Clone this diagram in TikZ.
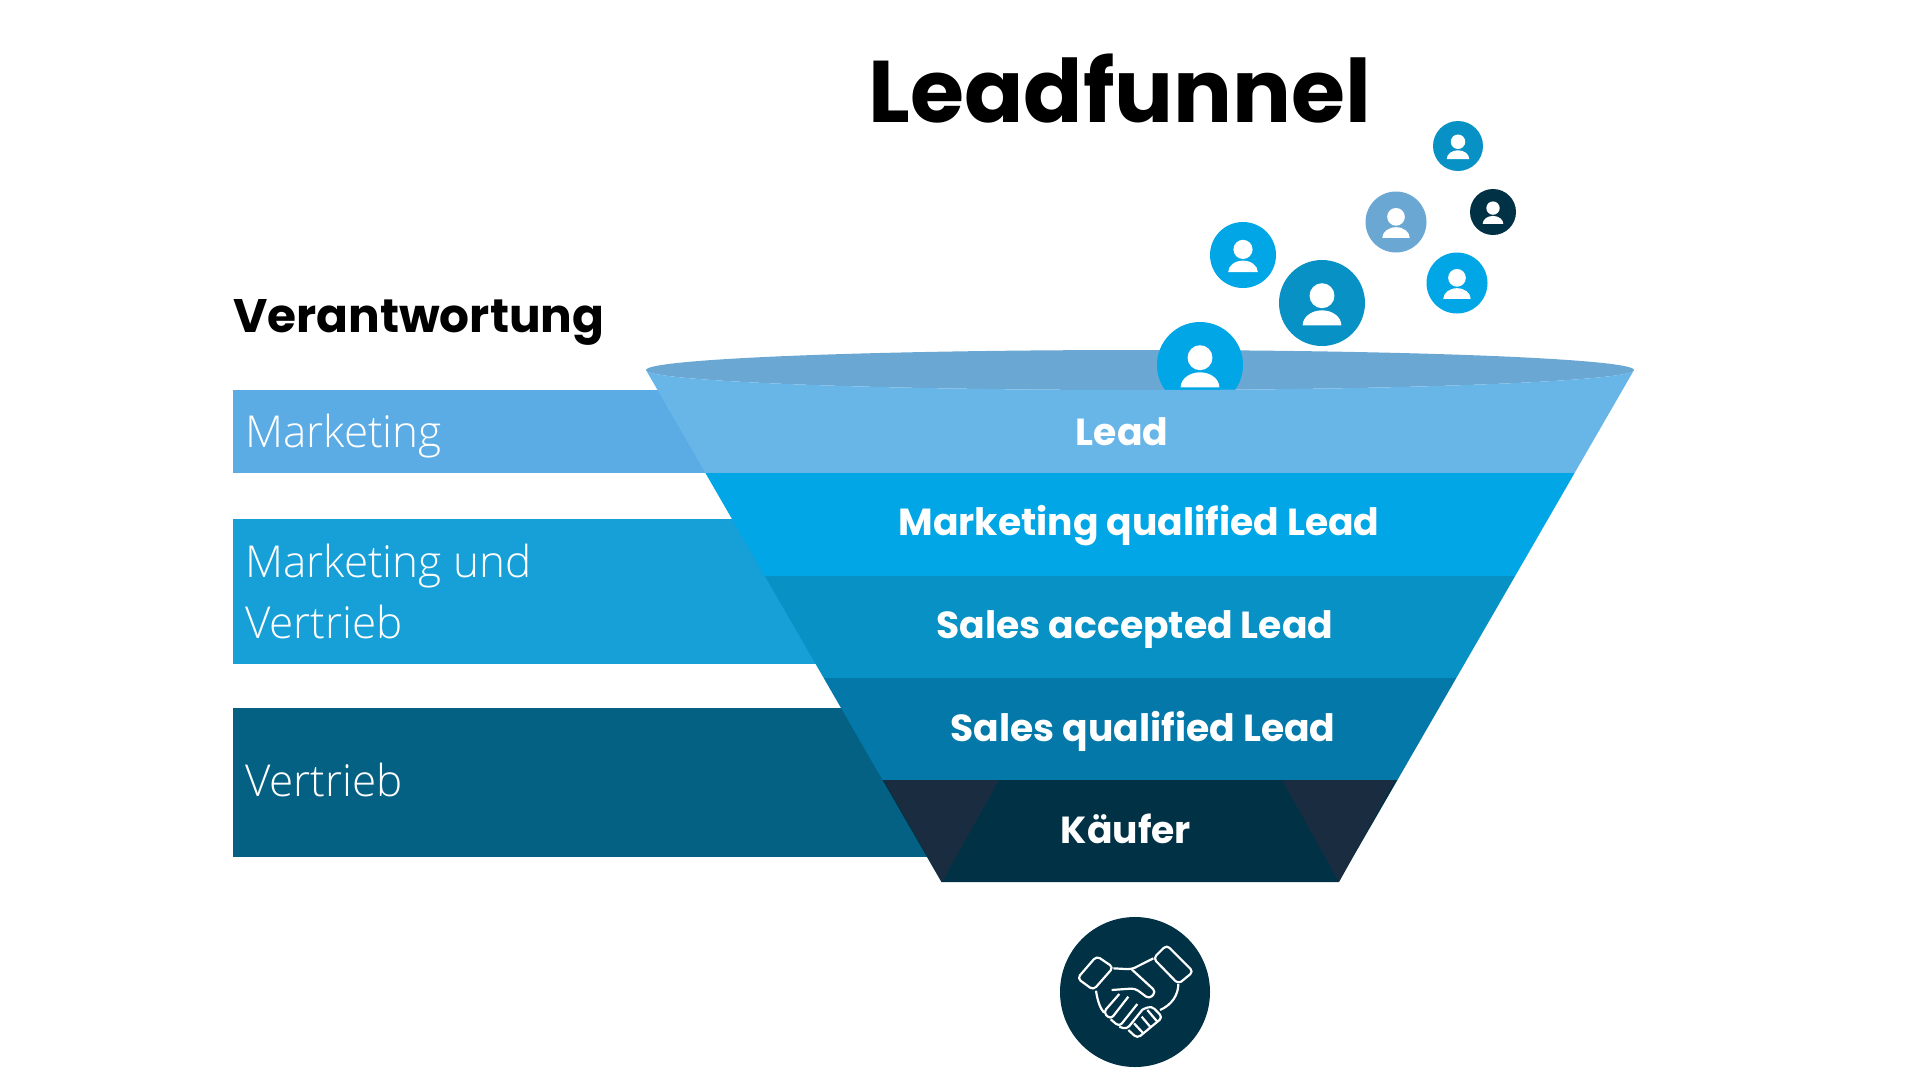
\documentclass[tikz,border=0pt]{standalone}
\usepackage{fontspec}
\newfontfamily\titlefont[Ligatures=NoCommon]{Poppins}
\newfontfamily\lightfont[UprightFont=* Light]{Open Sans}
\definecolor{rimblue}{HTML}{6AA8D3}
\definecolor{leadblue}{HTML}{68B5E8}
\definecolor{cyanblue}{HTML}{00A6E6}
\definecolor{midblue}{HTML}{0791C5}
\definecolor{deepblue}{HTML}{0478A8}
\definecolor{nightblue}{HTML}{003145}
\definecolor{sidenavy}{HTML}{1A2D40}
\definecolor{bandone}{HTML}{5BACE5}
\definecolor{bandtwo}{HTML}{179FD7}
\definecolor{bandthree}{HTML}{056184}
\tikzset{
  leveltext/.style={anchor=base,text=white,font=\fontsize{37.7}{37.7}\selectfont\titlefont\bfseries,inner sep=0pt},
  bandtext/.style={anchor=base west,text=white,font=\fontsize{44}{44}\selectfont\lightfont,inner sep=0pt},
  handline/.style={draw=white,line width=2.2pt,rounded corners=4pt,line join=round}
}
\begin{document}
\begin{tikzpicture}[x=1pt,y=-1pt]
  \def\tipleft{646}
  \def\tipright{1634}
  \def\tipy{370}
  \def\slope{0.577}

  \useasboundingbox (0,0) rectangle (1920,1080);
  \fill[white] (0,0) rectangle (1920,1080);

  \fill[bandone] (233,390) rectangle (1000,473);
  \fill[bandtwo] (233,519) rectangle (1000,664);
  \fill[bandthree] (233,708) rectangle (1000,857);

  \fill[rimblue] (1140,\tipy) ellipse (494 and 20);

  \foreach \cx/\cy/\rad/\col in {1458/146/25/midblue,1493/212/23/nightblue,1396/222/30.5/rimblue,
    1243/255/33/cyanblue,1322/303/43/midblue,1457/283/30.5/cyanblue,1200/365/43/cyanblue} {
    \fill[\col] (\cx,\cy) circle (\rad);
    \fill[white] (\cx,{\cy-0.17*\rad}) circle ({0.29*\rad});
    \fill[white] ({\cx-0.45*\rad},{\cy+0.52*\rad}) arc[start angle=180,end angle=360,
      x radius=0.45*\rad,y radius=0.35*\rad] -- cycle;
  }

  \pgfmathsetmacro\xl{\tipleft+(473-\tipy)*\slope}
  \pgfmathsetmacro\xr{\tipright-(473-\tipy)*\slope}
  \fill[leadblue] (\tipleft,\tipy) arc[start angle=180,end angle=0,x radius=494,y radius=20]
    -- (\xr,473) -- (\xl,473) -- cycle;

  \foreach \ya/\yb/\col in {473/576/cyanblue,576/678/midblue,678/780/deepblue,780/882/nightblue} {
    \pgfmathsetmacro\xa{\tipleft+(\ya-\tipy)*\slope}
    \pgfmathsetmacro\xb{\tipleft+(\yb-\tipy)*\slope}
    \pgfmathsetmacro\xc{\tipright-(\yb-\tipy)*\slope}
    \pgfmathsetmacro\xd{\tipright-(\ya-\tipy)*\slope}
    \fill[\col] (\xa,\ya) -- (\xb,\yb) -- (\xc,\yb) -- (\xd,\ya) -- cycle;
  }

  \fill[sidenavy] (884,780) -- (999,780) -- (942,882) -- cycle;
  \fill[sidenavy] (1282,780) -- (1395,780) -- (1339,882) -- cycle;

  \node[anchor=base,inner sep=0pt,font=\fontsize{87.5}{87.5}\selectfont\titlefont\bfseries] (title) at (1120,122) {Leadfunnel};
  \node[anchor=base west,inner sep=0pt,font=\fontsize{47}{47}\selectfont\titlefont\bfseries] (resp) at (233,332) {Verantwortung};

  \node[bandtext] (marketing) at (245,447) {Marketing};
  \node[bandtext] (both) at (245,577) {Marketing und};
  \node[bandtext] (bothsales) at (245,638) {Vertrieb};
  \node[bandtext] (sales) at (245,796) {Vertrieb};

  \node[leveltext] (lead) at (1122,445) {Lead};
  \node[leveltext] (mql) at (1139,535) {Marketing qualified Lead};
  \node[leveltext] (sal) at (1135,638) {Sales accepted Lead};
  \node[leveltext] (sql) at (1143,741) {Sales qualified Lead};
  \node[leveltext] (buyer) at (1126,843) {Käufer};

  \fill[nightblue] (1135,992) circle (75);
  \begin{scope}[shift={(1060,930)},x=0.3333pt,y=-0.3333pt]
    \draw[handline] (52,145) -- (110,78) -- (160,112) -- (100,180) -- cycle;
    \draw[handline] (280,85) -- (320,45) -- (400,125) -- (355,162) -- cycle;
    \draw[handline] (160,115) -- (215,118) -- (280,85);
    \draw[handline] (215,118) -- (288,185) -- (268,207) -- (225,175) -- (155,180);
    \draw[handline] (108,182) .. controls (112,210) and (120,235) .. (132,248);
    \draw[handline] (355,162) .. controls (355,195) and (335,225) .. (300,240);
    \draw[handline] (178,192) -- (130,247) -- (152,268) -- (205,200);
    \draw[handline] (152,268) -- (178,290) -- (232,222);
    \draw[handline] (178,290) -- (200,298) -- (248,238);
    \draw[handline] (248,238) -- (275,228) -- (308,262) -- (232,325) -- (205,300);
    \draw[handline] (222,280) -- (250,310);
    \draw[handline] (245,260) -- (272,292);
    \draw[handline] (262,240) -- (292,275);
  \end{scope}
\end{tikzpicture}
\end{document}
